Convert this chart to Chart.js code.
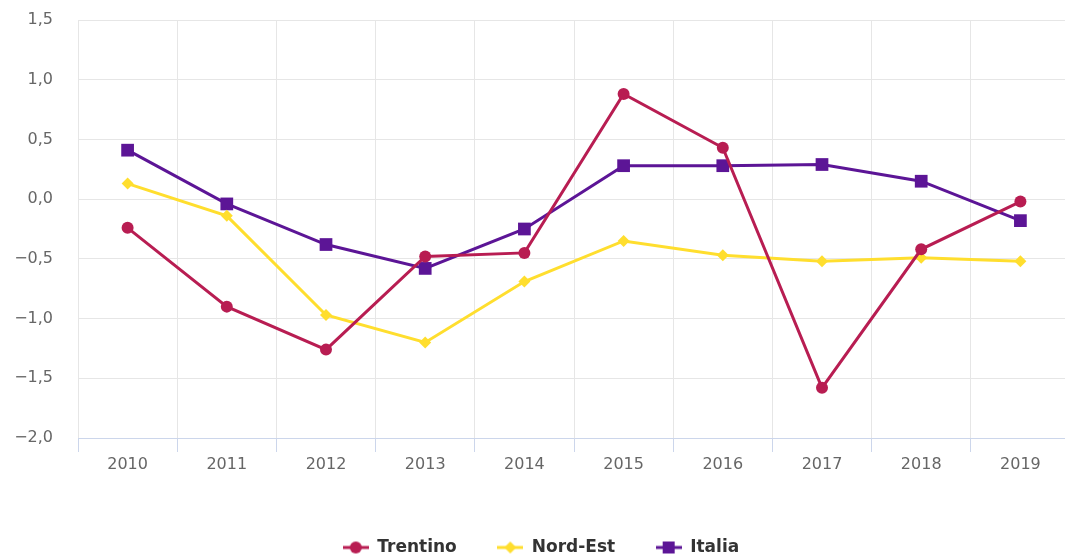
<!DOCTYPE html>
<html>
<head>
<meta charset="utf-8">
<script src="https://cdn.jsdelivr.net/npm/chart.js@4.4.1/dist/chart.umd.min.js"></script>
<style>
  html, body { margin: 0; padding: 0; background: #fff; overflow: hidden; }
  #wrap { width: 1082px; height: 560px; }
</style>
</head>
<body>
<div id="wrap"><canvas id="myChart" width="1082" height="560"></canvas></div>
<script>
// Dati
const years = ['2010', '2011', '2012', '2013', '2014', '2015', '2016', '2017', '2018', '2019'];
const trentino = [-0.24, -0.90, -1.26, -0.48, -0.45, 0.88, 0.43, -1.58, -0.42, -0.02];
const nordEst = [0.13, -0.14, -0.97, -1.20, -0.69, -0.35, -0.47, -0.52, -0.49, -0.52];
const italia = [0.41, -0.04, -0.38, -0.58, -0.25, 0.28, 0.28, 0.29, 0.15, -0.18];

const colTrentino = '#b81d52';
const colNordEst = '#ffde2e';
const colItalia = '#5c1596';

// icona legenda: linea + marker
function LegendIcon(color, style){
    const c = document.createElement('canvas');
    c.width = 26; c.height = 14;
    const g = c.getContext('2d');
    g.strokeStyle = color;
    g.fillStyle = color;
    g.lineWidth = 3;
    g.beginPath(); g.moveTo(0, 7); g.lineTo(26, 7); g.stroke();
    g.beginPath();
    if (style == 'circle') {
        g.arc(13, 7, 6, 0, Math.PI * 2);
    } else if (style == 'diamond') {
        g.moveTo(13, 1); g.lineTo(19, 7); g.lineTo(13, 13); g.lineTo(7, 7); g.closePath();
    } else {
        g.rect(7, 1, 12, 12);
    }
    g.fill();
    return c;
}

const icons = [LegendIcon(colTrentino, 'circle'), LegendIcon(colNordEst, 'diamond'), LegendIcon(colItalia, 'square')];
const gap = '      ';

const ctx = document.getElementById('myChart').getContext('2d');
const myChart = new Chart(ctx, {
    type: 'line',
    data: {
        labels: years,
        datasets: [{
            label: 'Trentino',
            data: trentino,
            borderColor: colTrentino,
            backgroundColor: colTrentino,
            borderWidth: 3,
            pointStyle: 'circle',
            pointRadius: 6,
            pointBorderWidth: 0,
            pointHoverRadius: 6
        }, {
            label: 'Nord-Est',
            data: nordEst,
            borderColor: colNordEst,
            backgroundColor: colNordEst,
            borderWidth: 3,
            pointStyle: 'rectRot',
            pointRadius: 6,
            pointBorderWidth: 0
        }, {
            label: 'Italia',
            data: italia,
            borderColor: colItalia,
            backgroundColor: colItalia,
            borderWidth: 3,
            pointStyle: 'rect',
            pointRadius: 9,
            pointBorderWidth: 0
        }]
    },
    options: {
        responsive: false,
        animation: false,
        layout: { autoPadding: false, padding: { top: 20, left: 12, right: 12, bottom: -6 } },
        plugins: {
            tooltip: { enabled: false },
            legend: {
                position: 'bottom',
                labels: {
                    usePointStyle: true,
                    pointStyleWidth: 26,
                    padding: 5,
                    color: '#333333',
                    font: { family: 'DejaVu Sans', size: 17, weight: 'bold' },
                    generateLabels: chart => chart.data.datasets.map((ds, i) => ({
                        text: ds.label + (i < 2 ? gap : ''),
                        pointStyle: icons[i],
                        fillStyle: ds.borderColor,
                        strokeStyle: ds.borderColor,
                        fontColor: '#333333',
                        lineWidth: 0,
                        datasetIndex: i
                    }))
                }
            }
        },
        scales: {
            x: {
                offset: true,
                grid: { color: '#e6e6e6', tickColor: '#ccd6eb', tickLength: 14, offset: true },
                border: { color: '#ccd6eb', width: 1 },
                ticks: { color: '#666666', padding: 3, font: { family: 'DejaVu Sans', size: 16 } },
                afterFit: scale => { scale.height = 96; }
            },
            y: {
                min: -2,
                max: 1.5,
                // tick invisibili: servono solo a distanziare le etichette
                grid: { color: '#e6e6e6', tickColor: 'rgba(0,0,0,0)', tickLength: 25 },
                border: { display: false },
                ticks: {
                    stepSize: 0.5,
                    padding: 0,
                    color: '#666666',
                    font: { family: 'DejaVu Sans', size: 16 },
                    callback: v => v.toFixed(1).replace('.', ',').replace('-', '\u2212')
                },
                afterFit: scale => { scale.width = 66; }
            }
        }
    }
});
</script>
</body>
</html>
